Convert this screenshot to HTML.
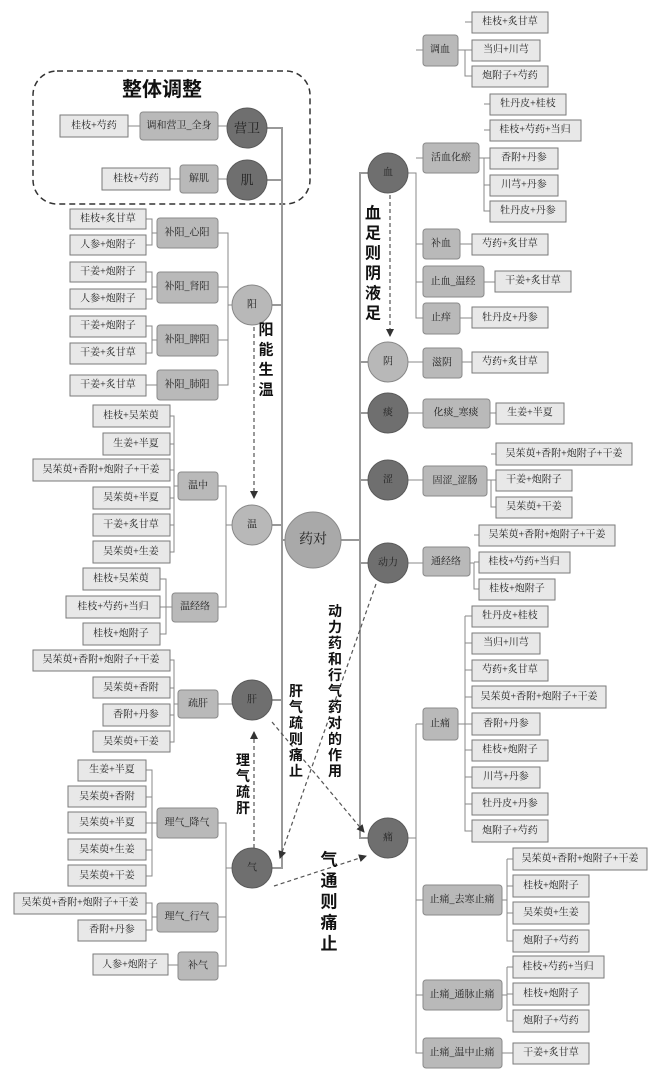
<!DOCTYPE html>
<html><head><meta charset="utf-8"><style>
html,body{margin:0;padding:0;background:#fff}
svg{display:block}
text{font-family:"Liberation Serif","Noto Serif CJK SC",serif;font-size:10px;fill:#222;text-anchor:middle;dominant-baseline:central}
.l{fill:#e8e8e8;stroke:#7a7a7a;stroke-width:1}
.c{fill:#b9b9b9;stroke:#8a8a8a;stroke-width:1}
.k{fill:none;stroke:#888;stroke-width:1}
.sp{fill:none;stroke:#999;stroke-width:2}
.d{fill:#6f6f6f;stroke:#5a5a5a}
.g{fill:#b8b8b8;stroke:#888}
.a{fill:none;stroke:#555;stroke-width:1.2;stroke-dasharray:4,3}
.b{font-family:"Liberation Sans","Noto Sans CJK SC",sans-serif;font-weight:bold;font-size:16px;fill:#111}
</style></head><body>
<svg width="656" height="1080" viewBox="0 0 656 1080" xmlns="http://www.w3.org/2000/svg">
<defs><marker id="ar" markerWidth="8" markerHeight="8" refX="7" refY="4" orient="auto" markerUnits="userSpaceOnUse"><path d="M0,0 L8,4 L0,8z" fill="#333"/></marker></defs>
<!-- dashed group -->
<rect x="33" y="71" width="277" height="133" rx="24" fill="none" stroke="#333" stroke-width="1.5" stroke-dasharray="6,4"/>
<text x="162" y="90" class="b" style="font-size:20px">整体调整</text>
<!-- spines -->
<path class="sp" d="M267,128 H282 V868 H272 M267,180 H282 M272,305 H282 M272,525 H282 M272,700 H282 M282,540 H285"/>
<path class="sp" d="M408,173 H360 V838 H368 M368,362 H360 M368,413 H360 M368,480 H360 M368,563 H360 M341,540 H360"/>
<!-- left connectors -->
<path class="k" d="M128,126 H140 M218,126 H227 M170,179 H180 M218,179 H227"/>
<path class="k" d="M146,219 H152 V245 H146 M152,233 H157 M146,272 H152 V299 H146 M152,287 H157 M146,326 H152 V353 H146 M152,340 H157 M146,385 H157"/>
<path class="k" d="M218,233 H228 V385 H218 M218,287 H228 M218,340 H228 M228,305 H232"/>
<path class="k" d="M170,416 H174 V552 H170 M170,444 H174 M170,470 H174 M170,498 H174 M170,525 H174 M174,486 H178"/>
<path class="k" d="M160,579 H166 V634 H160 M160,607 H172"/>
<path class="k" d="M218,486 H226 V607 H218 M226,525 H232"/>
<path class="k" d="M170,660 H174 V742 H170 M170,688 H174 M170,715 H174 M174,704 H178 M218,704 H232"/>
<path class="k" d="M146,770 H152 V876 H146 M146,797 H152 M146,823 H152 M146,850 H152 M152,823 H157 M146,903 H152 V930 H146 M152,917 H157 M168,965 H178"/>
<path class="k" d="M218,823 H226 V966 H218 M218,917 H226 M226,868 H232"/>
<!-- right connectors -->
<path class="k" d="M408,173 H416 V318 H423 M416,50 H423 M416,158 H423 M416,244 H423 M416,282 H423"/>
<path class="k" d="M458,50 H465 V76 H472 M465,22 H472 M465,50 H472 M479,158 H484 V211 H490 M484,104 H490 M484,130 H490 M484,158 H490 M484,185 H490 M460,244 H472 M484,282 H495 M460,318 H472"/>
<path class="k" d="M408,362 H423 M462,362 H472 M408,413 H423 M490,413 H496 M408,480 H423 M487,480 H491 V507 H496 M491,454 H496 M491,480 H496 M408,563 H423 M470,563 H474 V589 H479 M474,535 H479 M474,562 H479"/>
<path class="k" d="M408,838 H416 M416,724 V1053 H423 M416,724 H423 M416,900 H423 M416,995 H423"/>
<path class="k" d="M458,724 H465 M465,616 V831 H472 M465,616 H472 M465,643 H472 M465,670 H472 M465,697 H472 M465,724 H472 M465,750 H472 M465,777 H472 M465,804 H472"/>
<path class="k" d="M502,900 H507 M507,859 V941 H513 M507,859 H513 M507,886 H513 M507,913 H513 M502,995 H507 M507,967 V1021 H513 M507,967 H513 M507,994 H513 M502,1053 H513"/>
<!-- circles -->
<circle cx="313" cy="540" r="28" class="g" style="fill:#a9a9a9"/><text x="313" y="540" style="font-size:14px">药对</text>
<circle cx="247" cy="128" r="20" class="d"/><text x="247" y="128" style="font-size:13px">营卫</text>
<circle cx="247" cy="180" r="20" class="d"/><text x="247" y="180" style="font-size:13px">肌</text>
<circle cx="252" cy="305" r="20" class="g"/><text x="252" y="305">阳</text>
<circle cx="252" cy="525" r="20" class="g"/><text x="252" y="525">温</text>
<circle cx="252" cy="700" r="20" class="d"/><text x="252" y="700">肝</text>
<circle cx="252" cy="868" r="20" class="d"/><text x="252" y="868">气</text>
<circle cx="388" cy="173" r="20" class="d"/><text x="388" y="173">血</text>
<circle cx="388" cy="362" r="20" class="g"/><text x="388" y="362">阴</text>
<circle cx="388" cy="413" r="20" class="d"/><text x="388" y="413">痰</text>
<circle cx="388" cy="480" r="20" class="d"/><text x="388" y="480">涩</text>
<circle cx="388" cy="563" r="20" class="d"/><text x="388" y="563">动力</text>
<circle cx="388" cy="838" r="20" class="d"/><text x="388" y="838">痛</text>
<!-- left categories -->
<rect class="c" x="140" y="112" width="78" height="28" rx="3"/><text x="179" y="126">调和营卫_全身</text>
<rect class="c" x="180" y="165" width="38" height="28" rx="3"/><text x="199" y="179">解肌</text>
<rect class="c" x="157" y="218" width="61" height="30" rx="3"/><text x="187" y="233">补阳_心阳</text>
<rect class="c" x="157" y="272" width="61" height="31" rx="3"/><text x="187" y="287">补阳_肾阳</text>
<rect class="c" x="157" y="325" width="61" height="31" rx="3"/><text x="187" y="340">补阳_脾阳</text>
<rect class="c" x="157" y="370" width="61" height="30" rx="3"/><text x="187" y="385">补阳_肺阳</text>
<rect class="c" x="178" y="472" width="40" height="28" rx="3"/><text x="198" y="486">温中</text>
<rect class="c" x="172" y="593" width="46" height="29" rx="3"/><text x="195" y="607">温经络</text>
<rect class="c" x="178" y="690" width="40" height="28" rx="3"/><text x="198" y="704">疏肝</text>
<rect class="c" x="157" y="808" width="61" height="30" rx="3"/><text x="187" y="823">理气_降气</text>
<rect class="c" x="157" y="903" width="61" height="29" rx="3"/><text x="187" y="917">理气_行气</text>
<rect class="c" x="178" y="952" width="40" height="28" rx="3"/><text x="198" y="966">补气</text>
<!-- left leaves -->
<rect class="l" x="60" y="115" width="68" height="22"/><text x="94" y="126">桂枝+芍药</text>
<rect class="l" x="102" y="168" width="68" height="22"/><text x="136" y="179">桂枝+芍药</text>
<rect class="l" x="70" y="209" width="76" height="20"/><text x="108" y="219">桂枝+炙甘草</text>
<rect class="l" x="70" y="235" width="76" height="20"/><text x="108" y="245">人参+炮附子</text>
<rect class="l" x="70" y="262" width="76" height="20"/><text x="108" y="272">干姜+炮附子</text>
<rect class="l" x="70" y="289" width="76" height="20"/><text x="108" y="299">人参+炮附子</text>
<rect class="l" x="70" y="316" width="76" height="21"/><text x="108" y="326">干姜+炮附子</text>
<rect class="l" x="70" y="343" width="76" height="21"/><text x="108" y="353">干姜+炙甘草</text>
<rect class="l" x="70" y="375" width="76" height="21"/><text x="108" y="385">干姜+炙甘草</text>
<rect class="l" x="93" y="405" width="77" height="22"/><text x="131" y="416">桂枝+吴茱萸</text>
<rect class="l" x="103" y="433" width="67" height="22"/><text x="136" y="444">生姜+半夏</text>
<rect class="l" x="33" y="459" width="137" height="22"/><text x="101" y="470">吴茱萸+香附+炮附子+干姜</text>
<rect class="l" x="93" y="487" width="77" height="22"/><text x="131" y="498">吴茱萸+半夏</text>
<rect class="l" x="93" y="514" width="77" height="22"/><text x="131" y="525">干姜+炙甘草</text>
<rect class="l" x="93" y="541" width="77" height="22"/><text x="131" y="552">吴茱萸+生姜</text>
<rect class="l" x="83" y="568" width="77" height="22"/><text x="121" y="579">桂枝+吴茱萸</text>
<rect class="l" x="66" y="596" width="94" height="22"/><text x="113" y="607">桂枝+芍药+当归</text>
<rect class="l" x="83" y="623" width="77" height="22"/><text x="121" y="634">桂枝+炮附子</text>
<rect class="l" x="33" y="650" width="137" height="21"/><text x="101" y="660">吴茱萸+香附+炮附子+干姜</text>
<rect class="l" x="93" y="677" width="77" height="21"/><text x="131" y="688">吴茱萸+香附</text>
<rect class="l" x="103" y="704" width="67" height="22"/><text x="136" y="715">香附+丹参</text>
<rect class="l" x="93" y="731" width="77" height="21"/><text x="131" y="742">吴茱萸+干姜</text>
<rect class="l" x="78" y="760" width="68" height="21"/><text x="112" y="770">生姜+半夏</text>
<rect class="l" x="68" y="786" width="78" height="21"/><text x="107" y="797">吴茱萸+香附</text>
<rect class="l" x="68" y="812" width="78" height="21"/><text x="107" y="823">吴茱萸+半夏</text>
<rect class="l" x="68" y="839" width="78" height="21"/><text x="107" y="850">吴茱萸+生姜</text>
<rect class="l" x="68" y="865" width="78" height="21"/><text x="107" y="876">吴茱萸+干姜</text>
<rect class="l" x="14" y="893" width="132" height="21"/><text x="80" y="903">吴茱萸+香附+炮附子+干姜</text>
<rect class="l" x="78" y="920" width="68" height="21"/><text x="112" y="930">香附+丹参</text>
<rect class="l" x="93" y="954" width="75" height="21"/><text x="130" y="965">人参+炮附子</text>
<!-- right categories -->
<rect class="c" x="423" y="35" width="35" height="31" rx="3"/><text x="440" y="50">调血</text>
<rect class="c" x="423" y="143" width="56" height="30" rx="3"/><text x="451" y="158">活血化瘀</text>
<rect class="c" x="423" y="229" width="37" height="30" rx="3"/><text x="441" y="244">补血</text>
<rect class="c" x="423" y="266" width="61" height="31" rx="3"/><text x="453" y="282">止血_温经</text>
<rect class="c" x="423" y="303" width="37" height="31" rx="3"/><text x="441" y="318">止痒</text>
<rect class="c" x="423" y="348" width="39" height="30" rx="3"/><text x="442" y="363">滋阴</text>
<rect class="c" x="423" y="399" width="67" height="29" rx="3"/><text x="456" y="413">化痰_寒痰</text>
<rect class="c" x="423" y="466" width="64" height="30" rx="3"/><text x="455" y="481">固涩_涩肠</text>
<rect class="c" x="423" y="547" width="47" height="29" rx="3"/><text x="446" y="562">通经络</text>
<rect class="c" x="423" y="708" width="35" height="32" rx="3"/><text x="440" y="724">止痛</text>
<rect class="c" x="423" y="885" width="79" height="30" rx="3"/><text x="462" y="900">止痛_去寒止痛</text>
<rect class="c" x="423" y="980" width="79" height="30" rx="3"/><text x="462" y="995">止痛_通脉止痛</text>
<rect class="c" x="423" y="1038" width="79" height="30" rx="3"/><text x="462" y="1053">止痛_温中止痛</text>
<!-- right leaves -->
<rect class="l" x="472" y="12" width="76" height="21"/><text x="510" y="22">桂枝+炙甘草</text>
<rect class="l" x="472" y="40" width="68" height="21"/><text x="506" y="50">当归+川芎</text>
<rect class="l" x="472" y="66" width="76" height="21"/><text x="510" y="76">炮附子+芍药</text>
<rect class="l" x="490" y="94" width="76" height="21"/><text x="528" y="104">牡丹皮+桂枝</text>
<rect class="l" x="490" y="120" width="91" height="21"/><text x="535" y="130">桂枝+芍药+当归</text>
<rect class="l" x="490" y="148" width="68" height="21"/><text x="524" y="158">香附+丹参</text>
<rect class="l" x="490" y="175" width="68" height="21"/><text x="524" y="185">川芎+丹参</text>
<rect class="l" x="490" y="201" width="76" height="21"/><text x="528" y="211">牡丹皮+丹参</text>
<rect class="l" x="472" y="234" width="76" height="21"/><text x="510" y="244">芍药+炙甘草</text>
<rect class="l" x="495" y="271" width="76" height="21"/><text x="533" y="281">干姜+炙甘草</text>
<rect class="l" x="472" y="307" width="76" height="21"/><text x="510" y="318">牡丹皮+丹参</text>
<rect class="l" x="472" y="352" width="76" height="21"/><text x="510" y="362">芍药+炙甘草</text>
<rect class="l" x="496" y="403" width="68" height="21"/><text x="530" y="413">生姜+半夏</text>
<rect class="l" x="496" y="443" width="136" height="22"/><text x="564" y="454">吴茱萸+香附+炮附子+干姜</text>
<rect class="l" x="496" y="470" width="76" height="21"/><text x="534" y="480">干姜+炮附子</text>
<rect class="l" x="496" y="497" width="76" height="21"/><text x="534" y="507">吴茱萸+干姜</text>
<rect class="l" x="479" y="525" width="136" height="21"/><text x="547" y="535">吴茱萸+香附+炮附子+干姜</text>
<rect class="l" x="479" y="552" width="91" height="21"/><text x="524" y="562">桂枝+芍药+当归</text>
<rect class="l" x="479" y="579" width="76" height="21"/><text x="517" y="589">桂枝+炮附子</text>
<rect class="l" x="472" y="606" width="76" height="21"/><text x="510" y="616">牡丹皮+桂枝</text>
<rect class="l" x="472" y="633" width="68" height="21"/><text x="506" y="643">当归+川芎</text>
<rect class="l" x="472" y="660" width="76" height="21"/><text x="510" y="670">芍药+炙甘草</text>
<rect class="l" x="472" y="686" width="134" height="22"/><text x="539" y="697">吴茱萸+香附+炮附子+干姜</text>
<rect class="l" x="472" y="713" width="68" height="22"/><text x="506" y="724">香附+丹参</text>
<rect class="l" x="472" y="740" width="76" height="21"/><text x="510" y="750">桂枝+炮附子</text>
<rect class="l" x="472" y="767" width="68" height="21"/><text x="506" y="777">川芎+丹参</text>
<rect class="l" x="472" y="793" width="76" height="22"/><text x="510" y="804">牡丹皮+丹参</text>
<rect class="l" x="472" y="820" width="76" height="22"/><text x="510" y="831">炮附子+芍药</text>
<rect class="l" x="513" y="848" width="134" height="22"/><text x="580" y="859">吴茱萸+香附+炮附子+干姜</text>
<rect class="l" x="513" y="875" width="76" height="22"/><text x="551" y="886">桂枝+炮附子</text>
<rect class="l" x="513" y="902" width="76" height="22"/><text x="551" y="913">吴茱萸+生姜</text>
<rect class="l" x="513" y="930" width="76" height="22"/><text x="551" y="941">炮附子+芍药</text>
<rect class="l" x="513" y="956" width="91" height="22"/><text x="558" y="967">桂枝+芍药+当归</text>
<rect class="l" x="513" y="983" width="76" height="22"/><text x="551" y="994">桂枝+炮附子</text>
<rect class="l" x="513" y="1010" width="76" height="22"/><text x="551" y="1021">炮附子+芍药</text>
<rect class="l" x="513" y="1043" width="76" height="21"/><text x="551" y="1053">干姜+炙甘草</text>
<!-- dashed arrows -->
<path class="a" d="M254,327 V498" marker-end="url(#ar)"/>
<path class="a" d="M390,195 V336" marker-end="url(#ar)"/>
<path class="a" d="M254,848 V732" marker-end="url(#ar)"/>
<path class="a" d="M272,722 L364,832" marker-end="url(#ar)"/>
<path class="a" d="M376,584 L280,858" marker-end="url(#ar)"/>
<path class="a" d="M274,886 L366,856" marker-end="url(#ar)"/>
<!-- annotations -->
<g class="b" style="font-size:15px">
<text x="266" y="330" class="b" style="font-size:15px">阳</text><text x="266" y="350" class="b" style="font-size:15px">能</text><text x="266" y="370" class="b" style="font-size:15px">生</text><text x="266" y="390" class="b" style="font-size:15px">温</text>
<text x="373" y="214" class="b" style="font-size:16px">血</text><text x="373" y="234" class="b" style="font-size:16px">足</text><text x="373" y="254" class="b" style="font-size:16px">则</text><text x="373" y="274" class="b" style="font-size:16px">阴</text><text x="373" y="294" class="b" style="font-size:16px">液</text><text x="373" y="314" class="b" style="font-size:16px">足</text>
<text x="335" y="611" class="b" style="font-size:14px">动</text><text x="335" y="627" class="b" style="font-size:14px">力</text><text x="335" y="643" class="b" style="font-size:14px">药</text><text x="335" y="659" class="b" style="font-size:14px">和</text><text x="335" y="675" class="b" style="font-size:14px">行</text><text x="335" y="691" class="b" style="font-size:14px">气</text><text x="335" y="707" class="b" style="font-size:14px">药</text><text x="335" y="723" class="b" style="font-size:14px">对</text><text x="335" y="739" class="b" style="font-size:14px">的</text><text x="335" y="755" class="b" style="font-size:14px">作</text><text x="335" y="771" class="b" style="font-size:14px">用</text>
<text x="296" y="691" class="b" style="font-size:14px">肝</text><text x="296" y="707" class="b" style="font-size:14px">气</text><text x="296" y="723" class="b" style="font-size:14px">疏</text><text x="296" y="739" class="b" style="font-size:14px">则</text><text x="296" y="755" class="b" style="font-size:14px">痛</text><text x="296" y="771" class="b" style="font-size:14px">止</text>
<text x="243" y="760" class="b" style="font-size:14px">理</text><text x="243" y="776" class="b" style="font-size:14px">气</text><text x="243" y="792" class="b" style="font-size:14px">疏</text><text x="243" y="808" class="b" style="font-size:14px">肝</text>
<text x="329" y="860" class="b" style="font-size:17px">气</text><text x="329" y="881" class="b" style="font-size:17px">通</text><text x="329" y="902" class="b" style="font-size:17px">则</text><text x="329" y="923" class="b" style="font-size:17px">痛</text><text x="329" y="944" class="b" style="font-size:17px">止</text>
</g>
</svg>
</body></html>
